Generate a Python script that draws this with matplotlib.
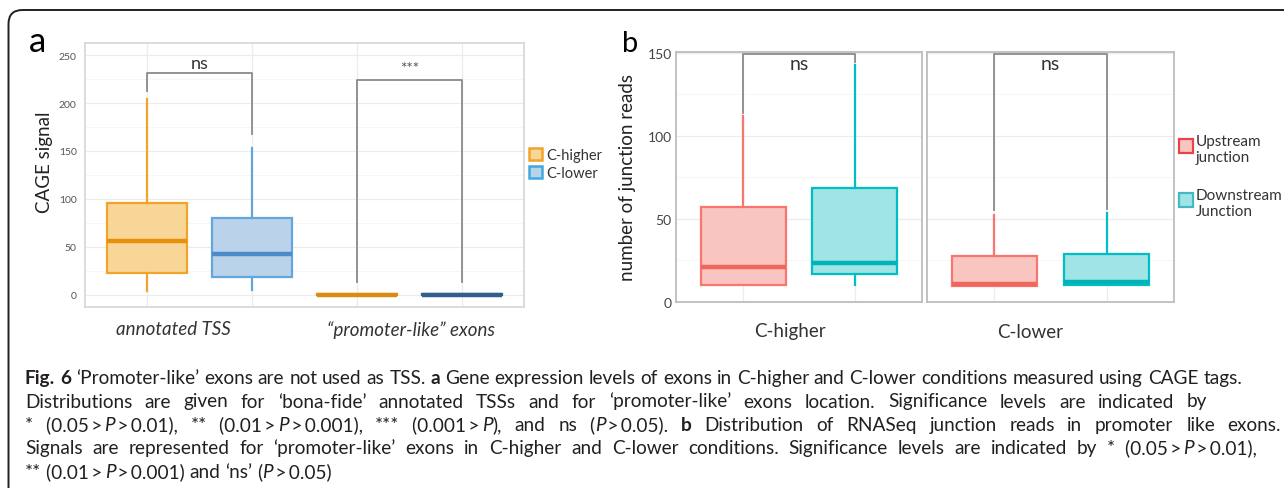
import re
import numpy as np
import matplotlib
matplotlib.use("Agg")
import matplotlib.pyplot as plt
from matplotlib.patches import Patch, Rectangle, FancyBboxPatch
from matplotlib.transforms import IdentityTransform

W, H = 1284, 489
FONT = ["Lato", "DejaVu Sans"]
plt.rcParams["font.family"] = FONT

# ---- panel a: CAGE signal (box stats)
a_groups = ["annotated TSS", "\u201cpromoter-like\u201d exons"]
a_conds = ["C-higher", "C-lower"]
a_lo = [4.2, 4.8, 0.0, 0.0]
a_q1 = [22.9, 18.4, 0.0, 0.0]
a_med = [56.4, 43.0, 0.5, 0.5]
a_q3 = [96.0, 80.0, 1.5, 1.5]
a_hi = [204.0, 153.4, 1.5, 1.5]
a_sig = ["ns", "***"]
a_br_top = [231.6, 224.0]
a_br_left = [213.0, 13.8]
a_br_right = [168.0, 13.8]

# ---- panel b: junction reads, one facet per condition
b_facets = ["C-higher", "C-lower"]
b_conds = ["Upstream\njunction", "Downstream\nJunction"]
b_lo = [[10.0, 10.0], [9.2, 10.0]]
b_q1 = [[10.0, 16.4], [9.2, 10.0]]
b_med = [[21.0, 23.4], [10.4, 12.0]]
b_q3 = [[57.0, 68.5], [27.6, 28.4]]
b_hi = [[112.0, 142.6], [51.9, 53.5]]
b_sig = ["ns", "ns"]
b_br_top = [149.0, 149.0]
b_br_left = [114.0, 55.0]
b_br_right = [144.6, 56.0]

caption = [
    "{b:Fig.} {b:6} \u2018Promoter-like\u2019 exons are not used as TSS. {b:a} Gene expression levels of exons in C-higher and C-lower conditions measured using CAGE tags.",
    "Distributions are given for \u2018bona-fide\u2019 annotated TSSs and for \u2018promoter-like\u2019 exons location. Significance levels are indicated by",
    "* (0.05\u2009>\u2009{i:P}\u2009>\u20090.01), ** (0.01\u2009>\u2009{i:P}\u2009>\u20090.001), *** (0.001\u2009>\u2009{i:P}), and ns ({i:P}\u2009>\u20090.05). {b:b} Distribution of RNASeq junction reads in promoter like exons.",
    "Signals are represented for \u2018promoter-like\u2019 exons in C-higher and C-lower conditions. Significance levels are indicated by * (0.05\u2009>\u2009{i:P}\u2009>\u20090.01),",
    "** (0.01\u2009>\u2009{i:P}\u2009>\u20090.001) and \u2018ns\u2019 ({i:P}\u2009>\u20090.05)",
]
cap_right = [1242, 1207, 1281, 1257, None]

fig = plt.figure(figsize=(W / 100, H / 100), dpi=100)


def px_axes(l, t, r, b):
    return fig.add_axes([l / W, 1 - b / H, (r - l) / W, (b - t) / H])


def ftext(x, y, s, **kw):
    return fig.text(x / W, 1 - y / H, s, **kw)


def style_axes(ax, edge, lw):
    for sp in ax.spines.values():
        sp.set_color(edge)
        sp.set_linewidth(lw)
    ax.set_axisbelow(True)
    ax.grid(which="major", color="#ececec", lw=0.9)
    ax.grid(which="minor", color="#f6f6f6", lw=0.7)
    ax.tick_params(which="both", length=0)


def boxes(ax, pos, lo, q1, med, q3, hi, edges, fills, meds):
    stats = [dict(whislo=lo[i], q1=q1[i], med=med[i], q3=q3[i], whishi=hi[i], fliers=[])
             for i in range(len(pos))]
    bp = ax.bxp(stats, positions=pos, widths=0.76, patch_artist=True,
                showcaps=False, showfliers=False, manage_ticks=False)
    for i in range(len(pos)):
        bp["boxes"][i].set(facecolor=fills[i], edgecolor=edges[i], linewidth=1.6)
        bp["medians"][i].set(color=meds[i], linewidth=3.2, solid_capstyle="butt")
        for w in bp["whiskers"][2 * i:2 * i + 2]:
            w.set(color=edges[i], linewidth=1.6)


def bracket(ax, x0, x1, top, yl, yr):
    ax.plot([x0, x0, x1, x1], [yl, top, top, yr], color="#8a8a8a", lw=1.3, zorder=1)


# ---------------- panel a
axa = px_axes(85, 44, 524, 308)
axa.set_xlim(0.41, 4.59)
axa.set_ylim(-12.5, 262.5)
axa.set_yticks(np.arange(0, 251, 50))
axa.set_yticks(np.arange(25, 251, 50), minor=True)
axa.set_xticks([1, 2, 3, 4])
axa.set_xticklabels([])
axa.tick_params(axis="y", labelsize=7.5, labelcolor="#555555", pad=6)
style_axes(axa, "#d6d6d6", 1.2)
boxes(axa, [1, 2, 3, 4], a_lo, a_q1, a_med, a_q3, a_hi,
      ["#F2A42A", "#62A6DE", "#D98C12", "#2F5F8C"],
      ["#F8D698", "#BAD3EA", "#F8D698", "#BAD3EA"],
      ["#E8900A", "#4A8CC8", "#D98C12", "#2F5F8C"])
for g in range(2):
    x0, x1 = 1 + 2 * g, 2 + 2 * g
    bracket(axa, x0, x1, a_br_top[g], a_br_left[g], a_br_right[g])
axa.text(1.5, a_br_top[0] + 2, a_sig[0], ha="center", va="bottom", fontsize=13, color="#333333")
axa.text(3.5, 236, a_sig[1], ha="center", va="center", fontsize=11, color="#555555")

ftext(37, 52, "a", fontsize=25, ha="center", va="baseline")
ftext(45, 162, "CAGE signal", rotation=90, fontsize=13.5, ha="center", va="center", color="#222222")
ftext(173, 330, a_groups[0], fontsize=13.5, style="italic", ha="center", va="center", color="#333333")
ftext(411, 330, a_groups[1], fontsize=13.5, style="italic", ha="center", va="center", color="#333333")

leg = fig.legend(handles=[Patch(facecolor="#F8D698", edgecolor="#F2A42A", lw=1.8),
                          Patch(facecolor="#BAD3EA", edgecolor="#3FA9E0", lw=1.8)],
                 labels=a_conds, loc="upper left", bbox_to_anchor=(529 / W, 1 - 149 / H),
                 frameon=False, fontsize=10.5, handlelength=0.9, handleheight=0.9,
                 handletextpad=0.3, labelspacing=0.25, borderpad=0, borderaxespad=0)
for t in leg.get_texts():
    t.set_color("#333333")

# ---------------- panel b
up_edge, up_fill, up_med = "#F8766D", "#F9C5C1", "#F0665D"
dn_edge, dn_fill, dn_med = "#00BFC4", "#A0E4E6", "#00B3B8"
facet_px = [(676, 922), (927, 1174)]
for f in range(2):
    l, r = facet_px[f]
    ax = px_axes(l, 53, r, 303)
    ax.set_xlim(0.4, 2.6)
    ax.set_ylim(-0.3, 150.5)
    ax.set_yticks([0, 50, 100, 150])
    ax.set_yticks([25, 75, 125], minor=True)
    ax.set_xticks([1, 2])
    ax.set_xticklabels([])
    style_axes(ax, "#bdbdbd", 1.3)
    if f == 0:
        ax.tick_params(axis="y", labelsize=10, labelcolor="#444444", pad=3)
    else:
        ax.set_yticklabels([])
    boxes(ax, [1, 2], b_lo[f], b_q1[f], b_med[f], b_q3[f], b_hi[f],
          [up_edge, dn_edge], [up_fill, dn_fill], [up_med, dn_med])
    bracket(ax, 1, 2, b_br_top[f], b_br_left[f], b_br_right[f])
    ax.text(1.5, 143.5, b_sig[f], ha="center", va="center", fontsize=14, color="#333333")

ftext(630, 52, "b", fontsize=21, ha="center", va="baseline")
ftext(628, 178, "number of junction reads", rotation=90, fontsize=13.5,
      ha="center", va="center", color="#222222")
ftext(790, 332, b_facets[0], fontsize=13.5, ha="center", va="center", color="#333333")
ftext(1030, 332, b_facets[1], fontsize=13.5, ha="center", va="center", color="#333333")

# legend b drawn by hand so keys sit on the first label line
for k, (ec, fc, ty) in enumerate([("#E8424A", up_fill, 140), ("#45B9C2", dn_fill, 194)]):
    fig.patches.append(Rectangle((1179 / W, 1 - (ty + 14) / H), 14 / W, 14 / H,
                                 transform=fig.transFigure, facecolor=fc, edgecolor=ec, lw=1.6))
    ftext(1196, ty - 5, b_conds[k], fontsize=11, ha="left", va="top",
          color="#333333", linespacing=1.2)

# ---------------- border (cropped rounded frame)
frame = FancyBboxPatch((8.5, -40), 1340, 478 + 40, boxstyle="round,pad=0,rounding_size=14",
                       transform=IdentityTransform(), facecolor="none",
                       edgecolor="#231f20", lw=1.4)
fig.patches.append(frame)

# ---------------- caption, justified word by word
renderer = fig.canvas.get_renderer()


def parse_word(word):
    parts = []
    for m in re.finditer(r"\{([bi]):([^}]*)\}|([^{]+)", word):
        if m.group(1):
            parts.append((m.group(2), m.group(1)))
        else:
            parts.append((m.group(3), ""))
    return parts


def piece(s, st, fs):
    return fig.text(0, 0, s, fontsize=fs, family=FONT, color="#231f20",
                    fontweight="bold" if st == "b" else "normal",
                    fontstyle="italic" if st == "i" else "normal", va="baseline")


def measure(s, st, fs):
    t = piece(s, st, fs)
    w = t.get_window_extent(renderer).width
    t.remove()
    return w


def natural_width(line, fs):
    words = line.split(" ")
    ws = sum(measure(s, st, fs) for w in words for s, st in parse_word(w))
    return ws + (len(words) - 1) * 0.25 * fs * 100 / 72


LEFT = 25
fs = 10.0
fs = fs * (cap_right[0] - LEFT) / natural_width(caption[0], fs)
base = 384
for li, line in enumerate(caption):
    words = [parse_word(w) for w in line.split(" ")]
    widths = [[measure(s, st, fs) for s, st in w] for w in words]
    total = sum(sum(w) for w in widths)
    if cap_right[li] is None:
        gap = 0.25 * fs * 100 / 72
    else:
        gap = (cap_right[li] - LEFT - total) / (len(words) - 1)
    x = LEFT
    y = base + li * 23.5
    for w, wd in zip(words, widths):
        for (s, st), d in zip(w, wd):
            t = piece(s, st, fs)
            t.set_position((x / W, 1 - y / H))
            x += d
        x += gap

fig.savefig("out.png", dpi=100)
